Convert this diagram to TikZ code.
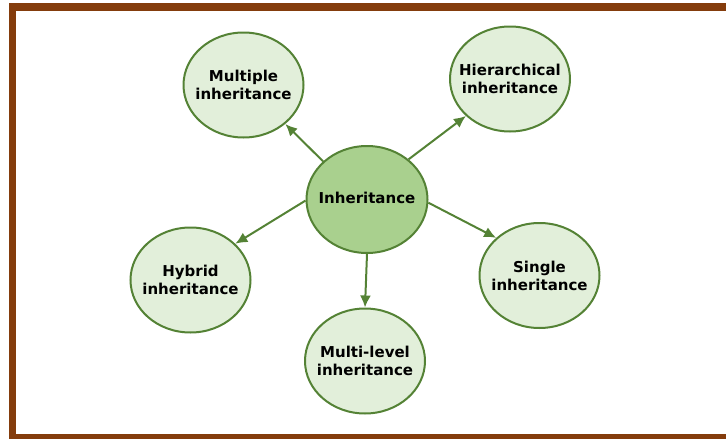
\documentclass[tikz,border=0pt]{standalone}
\usepackage{fontspec}
\setmainfont{DejaVu Sans}
\usetikzlibrary{%
	shapes.geometric,% wg. ellipse
	arrows.meta%
}
\definecolor{framebrown}{RGB}{132,60,12}
\definecolor{leafgreen}{RGB}{226,239,218}
\definecolor{rootgreen}{RGB}{169,208,142}
\definecolor{edgegreen}{RGB}{84,130,53}
\tikzstyle{vertex}=[ellipse, minimum width=120pt, minimum height=105pt, inner xsep=-25pt, inner ysep=0pt, line width = 2pt, draw = edgegreen, fill = leafgreen, align = center, font=\fontsize{15}{18}\selectfont\bfseries]
\tikzstyle{root} = [vertex, fill = rootgreen, minimum width=121pt, minimum height=107pt]
\tikzstyle{edge} = [draw = edgegreen, line width = 2pt, -{Latex[length=12pt,width=11pt]}]

\begin{document}
\begin{tikzpicture}[x=1pt,y=-1pt]
	\useasboundingbox (0,0) rectangle (726,439);

	% Frame on top, left and bottom
	\fill[framebrown] (9,3) rectangle (726,11);
	\fill[framebrown] (9,3) rectangle (16,439);
	\fill[framebrown] (9,433.5) rectangle (726,439);

	% First we draw the root
	\node[root] (inh) at (367,199.5) {\raisebox{4pt}{Inheritance}};

	% Then the kinds around it
	\foreach \pos/\name/\lbl in {
		{(243.5,85)/mult/{Multiple\\inheritance}},
		{(510,79)/hier/{Hierarchical\\inheritance}},
		{(539.5,275.5)/single/{Single\\inheritance}},
		{(365,361)/multi/{Multi-level\\inheritance}},
		{(190.5,280)/hybrid/{Hybrid\\inheritance}}}
	\node[vertex] (\name) at \pos {\lbl};

	% Connect root with the kinds
	\foreach \source/ \dest in {
		inh.139/mult.-43,
		inh.44/hier.220,
		inh.-3/single.139,
		inh.-90/multi.90,
		inh.181/hybrid.39
	}
	\path[edge] (\source) -- (\dest);

\end{tikzpicture}
\end{document}
